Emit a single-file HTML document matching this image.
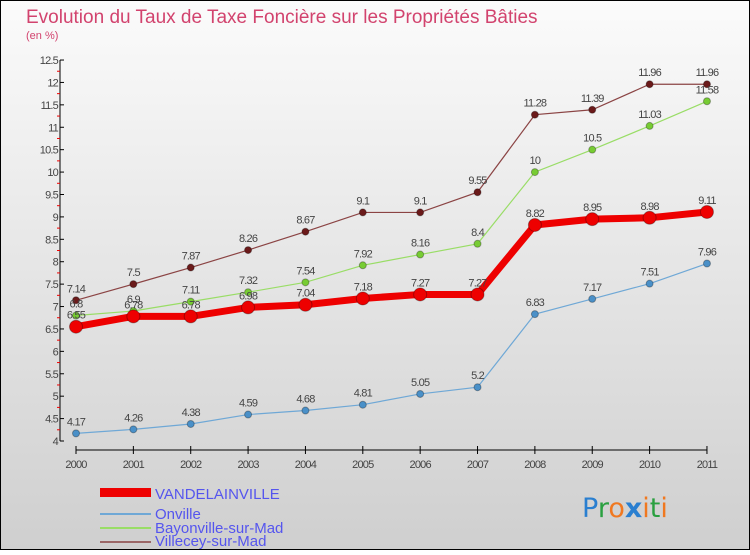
<!DOCTYPE html>
<html><head><meta charset="utf-8"><style>
body{margin:0;width:750px;height:550px;overflow:hidden;font-family:"Liberation Sans",sans-serif}
</style></head><body>
<svg width="750" height="550" xmlns="http://www.w3.org/2000/svg">
<defs><linearGradient id="bg" x1="0" y1="0" x2="0" y2="1"><stop offset="0" stop-color="#fbfbfb"/><stop offset="1" stop-color="#cfcfcf"/></linearGradient></defs>
<rect x="0.5" y="0.5" width="749" height="549" fill="url(#bg)" stroke="#000"/>
<text x="26" y="23" font-size="19" fill="#d2436e">Evolution du Taux de Taxe Foncière sur les Propriétés Bâties</text>
<text x="26" y="39" font-size="11" fill="#d2436e">(en %)</text>
<g id="axes"></g><g id="series"></g>
<g font-size="15" fill="#5555ee">
<rect x="100" y="488" width="51" height="9" fill="#ee0000"/>
<text x="155" y="499">VANDELAINVILLE</text>
<line x1="100" y1="514" x2="151" y2="514" stroke="#6fa8d6" stroke-width="2"/>
<text x="155" y="519">Onville</text>
<line x1="100" y1="528" x2="151" y2="528" stroke="#99dd66" stroke-width="2"/>
<text x="155" y="533">Bayonville-sur-Mad</text>
<line x1="100" y1="542" x2="151" y2="542" stroke="#9a6666" stroke-width="2"/>
<text x="155" y="546">Villecey-sur-Mad</text>
</g>
<g font-size="27" font-family="'DejaVu Sans',sans-serif">
<text x="582" y="517"><tspan fill="#2a7fd0">P</tspan><tspan fill="#2aa040">r</tspan><tspan fill="#f07820">o</tspan><tspan fill="#2a7fd0" font-weight="bold">x</tspan><tspan fill="#f07820">i</tspan><tspan fill="#2aa040">t</tspan><tspan fill="#f07820">i</tspan></text>
</g>
</svg>
<script>
const years=[2000,2001,2002,2003,2004,2005,2006,2007,2008,2009,2010,2011];
const vandelainville=[6.55,6.78,6.78,6.98,7.04,7.18,7.27,7.27,8.82,8.95,8.98,9.11];
const onville=[4.17,4.26,4.38,4.59,4.68,4.81,5.05,5.2,6.83,7.17,7.51,7.96];
const bayonville=[6.8,6.9,7.11,7.32,7.54,7.92,8.16,8.4,10,10.5,11.03,11.58];
const villecey=[7.14,7.5,7.87,8.26,8.67,9.1,9.1,9.55,11.28,11.39,11.96,11.96];
const yTicks=[4,4.5,5,5.5,6,6.5,7,7.5,8,8.5,9,9.5,10,10.5,11,11.5,12,12.5];
const NS="http://www.w3.org/2000/svg";
const X=i=>76+i*57.36, Y=v=>441-(v-4)*44.82;
function mk(t,a,p){const e=document.createElementNS(NS,t);for(const k in a)e.setAttribute(k,a[k]);p.appendChild(e);return e;}
const ax=document.getElementById('axes');
let l=mk('line',{x1:60,y1:Y(12.5),x2:60,y2:Y(4),stroke:'#000'},ax);


l=mk('line',{x1:76,y1:450,x2:X(11),y2:450,stroke:'#000'},ax);


yTicks.forEach(v=>{
 mk('line',{x1:60,y1:Y(v),x2:64,y2:Y(v),stroke:'#000'},ax);
 if(v<12.5) mk('line',{x1:57,y1:Y(v+0.25),x2:60,y2:Y(v+0.25),stroke:'#e00'},ax);
 const t=mk('text',{x:58,y:Y(v)+4,'text-anchor':'end','font-size':11,fill:'#444','letter-spacing':'-0.8'},ax);
 t.textContent=String(v);
 
 
});
years.forEach((y,i)=>{
 mk('line',{x1:X(i),y1:446,x2:X(i),y2:454,stroke:'#000'},ax);
 const t=mk('text',{x:X(i),y:468,'text-anchor':'middle','font-size':11,fill:'#444','letter-spacing':'-0.8'},ax);
 t.textContent=y;
 
 
});
const sg=document.getElementById('series');
function draw(data,color,dot,w,r,name){
 const g=mk('g',{},sg);
 
 
 const p=mk('polyline',{points:data.map((v,i)=>X(i)+','+Y(v)).join(' '),fill:'none',stroke:color,'stroke-width':w},g);
 
 
 data.forEach((v,i)=>{
  const c=mk('circle',{cx:X(i),cy:Y(v),r:r,fill:dot,stroke:'rgba(0,0,0,0.3)'},g);
  
  
  const t=mk('text',{x:X(i),y:Y(v)-8,'text-anchor':'middle','font-size':11,fill:'#444','letter-spacing':'-0.8'},g);
  t.textContent=String(v);
  
  
 });
}
draw(villecey,'#8b4444','#6b1a1a',1.2,3.5,'villecey');
draw(bayonville,'#99dd66','#77cc33',1.2,3.5,'bayonville');
draw(onville,'#6fa8d6','#4a90c8',1.2,3.5,'onville');
draw(vandelainville,'#ee0000','#ee0000',7,6.5,'vandelainville');
</script>
</body></html>
